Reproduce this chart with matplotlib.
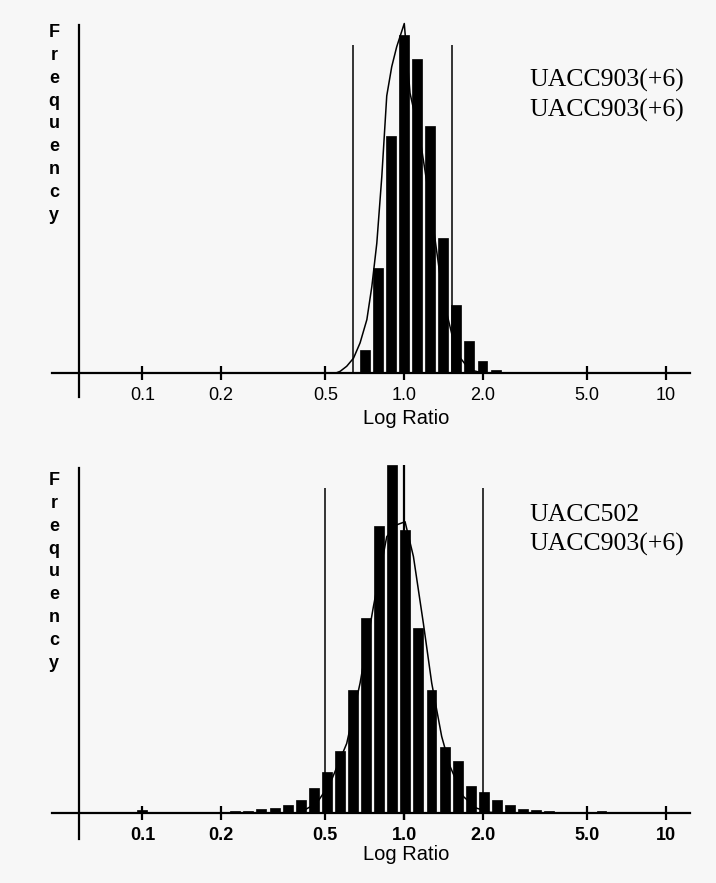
import numpy as np
import matplotlib
matplotlib.use("Agg")
import matplotlib.pyplot as plt
from matplotlib.ticker import NullLocator

W, H = 716, 883

# tick marks on the log axis
tick_vals = [0.1, 0.2, 0.5, 1.0, 2.0, 5.0, 10]
tick_labels = ['0.1', '0.2', '0.5', '1.0', '2.0', '5.0', '10']

# top panel: UACC903(+6) vs UACC903(+6)
top_bins = [-0.15, -0.10, -0.05, 0.00, 0.05, 0.10, 0.15, 0.20, 0.25, 0.30, 0.35]   # log10 ratio, bin centre
top_freq = [6.9, 31, 70, 100, 93, 73, 40, 20, 9.4, 3.6, 1.0]
top_curve_x = [-0.26, -0.244, -0.219, -0.193, -0.168, -0.142, -0.123, -0.104, -0.085,
               -0.066, -0.047, -0.028, 0.001, 0.023, 0.06, 0.10, 0.15, 0.20, 0.25, 0.30]
top_curve_y = [0, 0.5, 2, 4.4, 8.9, 15.8, 25.6, 38.4, 58, 82, 90.6, 96.5, 103.4, 82.8,
               70, 50, 22, 6, 1, 0]
top_cut = [0.638, 1.52]
top_names = ['UACC903(+6)', 'UACC903(+6)']

# bottom panel: UACC502 vs UACC903(+6)
bot_bins = [-1.0, -0.745, -0.695, -0.645, -0.595, -0.545, -0.495, -0.445, -0.395, -0.345,
            -0.295, -0.245, -0.195, -0.145, -0.095, -0.045, 0.005, 0.055, 0.105, 0.155,
            0.205, 0.255, 0.305, 0.355, 0.405, 0.455, 0.505, 0.555, 0.605, 0.655, 0.705,
            0.755, 0.805, 0.855, 0.905, 0.955]
bot_freq = [0.8, 0.2, 0.3, 0.5, 0.6, 1.1, 1.3, 2.4, 3.8, 7.3,
            11.8, 17.7, 35.4, 56, 82.5, 100, 81.3, 53.1, 35.4, 19.1,
            14.8, 7.9, 6.0, 3.6, 2.2, 1.2, 0.8, 0.5, 0.3, 0.2, 0.3,
            0.5, 0.2, 0.2, 0.2, 0.3]
bot_curve_x = [-0.40, -0.333, -0.282, -0.219, -0.168, -0.117, -0.066, -0.028, 0.004,
               0.036, 0.074, 0.106, 0.144, 0.176, 0.226, 0.277, 0.328, 0.38]
bot_curve_y = [0, 2.9, 8.6, 20, 37.3, 59.3, 79.4, 82.8, 83.7,
               73.7, 54.5, 37.3, 22, 13.4, 4.8, 1.4, 0.2, 0]
bot_cut = [0.5, 2.0]
bot_mid = 1.0
bot_names = ['UACC502', 'UACC903(+6)']

fig = plt.figure(figsize=(W / 100, H / 100), dpi=100)
fig.patch.set_facecolor('#f7f7f7')

tick_font = {'family': 'Liberation Sans', 'size': 13}
half_w = 0.019   # half bar width in decades


def panel(px_top, px_axis, px_bot, scale, bins, freq, cx, cy, yaxis_top, bold):
    ax = fig.add_axes([52 / W, 1 - px_bot / H, (690 - 52) / W, (px_bot - px_top) / H])
    ax.set_facecolor('none')
    ax.set_xscale('log')
    ax.set_xlim(0.0451, 12.4)
    ax.set_ylim((px_axis - px_bot) / scale, (px_axis - px_top) / scale)

    b = np.array(bins)
    left = 10 ** (b - half_w)
    ax.bar(left, freq, width=10 ** (b + half_w) - left, align='edge',
           color='black', edgecolor='black', linewidth=0.5, zorder=3)
    ax.plot(10 ** np.array(cx), cy, color='black', lw=1.1, zorder=2)

    for s in ['top', 'right']:
        ax.spines[s].set_visible(False)
    ax.spines['bottom'].set_position(('data', 0))
    ax.spines['bottom'].set_linewidth(1.6)
    ax.spines['left'].set_position(('data', 0.0572))
    ax.spines['left'].set_linewidth(1.6)
    ax.spines['left'].set_bounds((px_axis - px_bot + 3) / scale, yaxis_top)
    ax.set_yticks([])
    ax.set_xticks(tick_vals)
    ax.set_xticklabels(tick_labels, fontdict=dict(tick_font, weight='bold' if bold else 'normal'))
    ax.xaxis.set_minor_locator(NullLocator())
    ax.tick_params(axis='x', direction='inout', length=10, width=1.6, pad=5)
    return ax


ax1 = panel(20, 373, 400, 3.38, top_bins, top_freq, top_curve_x, top_curve_y, 103, False)
ax1.vlines(top_cut, 0, 97, color='black', lw=1.1, zorder=4)

ax2 = panel(458, 813, 842, 3.48, bot_bins, bot_freq, bot_curve_x, bot_curve_y, 99, True)
ax2.vlines(bot_cut, 0, 93.4, color='black', lw=1.1, zorder=4)
ax2.vlines([bot_mid], -2, 100, color='black', lw=1.6, zorder=4)

# axis titles
for ytop, yl in [(24, 418), (472, 855)]:
    fig.text(54 / W, 1 - ytop / H, '\n'.join('Frequency'), ha='center', va='top',
             family='Liberation Sans', weight='bold', fontsize=13, linespacing=1.45)
    fig.text(406 / W, 1 - yl / H, 'Log Ratio', ha='center', va='center',
             family='Liberation Sans', fontsize=14.5)

# cell line labels
for names, ys in [(top_names, (80, 110)), (bot_names, (515, 544))]:
    for n, y in zip(names, ys):
        fig.text(529 / W, 1 - y / H, n, ha='left', va='center',
                 family='Liberation Serif', fontsize=18.5)

fig.savefig('out.png', dpi=100, facecolor=fig.get_facecolor())
